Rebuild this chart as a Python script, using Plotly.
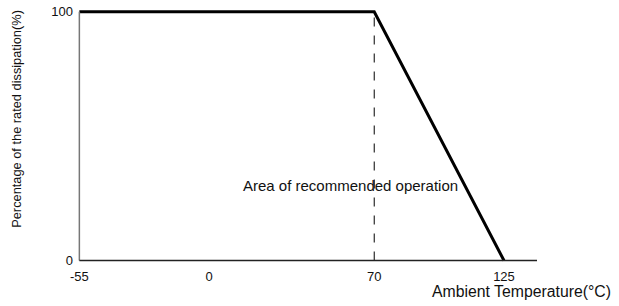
import plotly.graph_objects as go

# Data
temp = [-55, 70, 125]
pct = [100, 100, 0]
knee_x = [70, 70]
knee_y = [0, 100]
xticks = [-55, 0, 70, 125]
yticks = [0, 100]

W, H = 619, 306
L, R, T, B = 77, 82, 8, 42.5
pw, ph = W - L - R, H - T - B


def px_x(xp):
    return (xp - L) / pw


def px_y(yp):
    return (H - B - yp) / ph


fig = go.Figure()
fig.add_trace(go.Scatter(x=knee_x, y=knee_y, mode="lines",
                         line=dict(color="black", width=1, dash="dash"),
                         hoverinfo="skip", showlegend=False))
fig.add_trace(go.Scatter(x=temp, y=pct, mode="lines",
                         line=dict(color="black", width=3),
                         showlegend=False))

# axis lines
fig.add_shape(type="line", xref="x", yref="y", x0=-55, x1=-55, y0=0, y1=100,
              line=dict(color="#777777", width=1.5))
fig.add_shape(type="line", xref="x", yref="y", x0=-55, x1=139, y0=0, y1=0,
              line=dict(color="#222222", width=1.5))

fig.add_annotation(x=60, y=30, xref="x", yref="y", text="Area of recommended operation",
                   showarrow=False, font=dict(family="Liberation Sans, Arial", size=15, color="#111"),
                   xanchor="center", yanchor="middle")
fig.add_annotation(x=px_x(613), y=px_y(292), xref="paper", yref="paper",
                   text="Ambient Temperature(°C)",
                   showarrow=False, xanchor="right", yanchor="middle",
                   font=dict(family="Liberation Sans, Arial", size=15.8, color="#111"))
fig.add_annotation(x=px_x(17), y=px_y(119), xref="paper", yref="paper",
                   text="Percentage of the rated dissipation(%)",
                   showarrow=False, textangle=-90, xanchor="center", yanchor="middle",
                   font=dict(family="Liberation Sans, Arial", size=12.8, color="#111"))

fig.update_layout(
    width=W, height=H,
    margin=dict(l=L, r=R, t=T, b=B, autoexpand=False),
    plot_bgcolor="white", paper_bgcolor="white",
    xaxis=dict(range=[-56, 139], tickvals=xticks, ticktext=[str(v) for v in xticks],
               showgrid=False, zeroline=False, showline=False, ticks="", automargin=False,
               ticklabeloverflow="allow", ticklabelstandoff=4,
               tickfont=dict(family="Liberation Sans, Arial", size=13, color="#111")),
    yaxis=dict(range=[-1, 101.5], tickvals=yticks, ticktext=[str(v) for v in yticks],
               showgrid=False, zeroline=False, showline=False, ticks="", automargin=False,
               ticklabelstandoff=3, ticklabeloverflow="allow",
               tickfont=dict(family="Liberation Sans, Arial", size=13, color="#111")),
)
fig.write_html("out.html", config={"displayModeBar": False},
               post_script="document.body.style.margin='0';")
